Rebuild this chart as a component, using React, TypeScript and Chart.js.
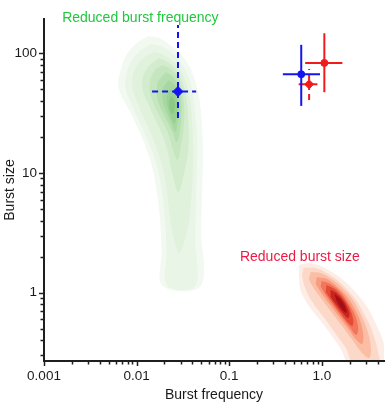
import React, { useEffect, useRef } from 'react';
import { Chart, registerables } from 'chart.js';

Chart.register(...registerables);

// ---------- axis tick labels ----------
const X_TICK_VALUES = [0.001, 0.01, 0.1, 1];
const X_TICK_LABELS = ['0.001', '0.01', '0.1', '1.0'];
const Y_TICK_VALUES = [1, 10, 100];
const Y_TICK_LABELS = ['1', '10', '100'];
const X_TITLE = 'Burst frequency';
const Y_TITLE = 'Burst size';

// ---------- point estimates with error bars ----------
const POINT_FREQ = [0.028, 0.6, 1.066, 0.73];
const POINT_SIZE = [48, 67, 83.3, 55.2];
const FREQ_LOW = [0.0147, 0.38, 0.662, 0.563];
const FREQ_HIGH = [0.044, 0.957, 1.67, 0.897];
const SIZE_LOW = [28.9, 36.4, 47.4, 40.8];
const SIZE_HIGH = [173, 118, 147.5, 74.2];

// ---------- annotations (text, freq, size) ----------
const NOTE_TEXT = ['Reduced burst frequency', 'Reduced burst size'];
const NOTE_FREQ = [0.00157, 0.1306];
const NOTE_SIZE = [183, 1.84];

// ---------- density contours, [log10 freq, log10 size], outer -> inner ----------
const GREEN_LEVELS_LOG10: number[][][] = [
  [[-1.869, 2.146], [-1.762, 2.130], [-1.655, 2.079], [-1.549, 2.013], [-1.453, 1.921], [-1.378, 1.795], [-1.325, 1.636], [-1.298, 1.444], [-1.282, 1.193], [-1.292, 0.859], [-1.303, 0.524], [-1.308, 0.056], [-1.719, 0.056], [-1.730, 0.357], [-1.751, 0.650], [-1.794, 0.901], [-1.847, 1.093], [-1.922, 1.260], [-2.008, 1.411], [-2.093, 1.544], [-2.168, 1.653], [-2.200, 1.745], [-2.178, 1.845], [-2.136, 1.946], [-2.072, 2.029], [-1.986, 2.096]],
  [[-1.847, 2.079], [-1.741, 2.063], [-1.634, 2.013], [-1.538, 1.937], [-1.453, 1.829], [-1.399, 1.678], [-1.367, 1.486], [-1.346, 1.235], [-1.357, 0.859], [-1.367, 0.441], [-1.367, 0.056], [-1.666, 0.056], [-1.677, 0.357], [-1.698, 0.650], [-1.730, 0.875], [-1.783, 1.068], [-1.858, 1.235], [-1.943, 1.385], [-2.029, 1.528], [-2.093, 1.645], [-2.125, 1.745], [-2.104, 1.845], [-2.050, 1.946], [-1.954, 2.029]],
  [[-1.805, 2.013], [-1.709, 1.987], [-1.613, 1.937], [-1.527, 1.862], [-1.463, 1.745], [-1.421, 1.594], [-1.399, 1.402], [-1.389, 1.110], [-1.410, 0.775], [-1.453, 0.524], [-1.538, 0.332], [-1.613, 0.508], [-1.655, 0.733], [-1.687, 0.942], [-1.741, 1.110], [-1.815, 1.277], [-1.911, 1.444], [-1.986, 1.578], [-2.040, 1.695], [-2.040, 1.812], [-1.986, 1.912], [-1.901, 1.979]],
  [[-1.762, 1.962], [-1.666, 1.929], [-1.570, 1.862], [-1.506, 1.762], [-1.463, 1.628], [-1.442, 1.444], [-1.442, 1.193], [-1.485, 1.009], [-1.549, 0.842], [-1.613, 0.992], [-1.655, 1.151], [-1.709, 1.293], [-1.794, 1.444], [-1.869, 1.569], [-1.933, 1.695], [-1.933, 1.804], [-1.869, 1.895]],
  [[-1.719, 1.904], [-1.634, 1.870], [-1.549, 1.795], [-1.506, 1.678], [-1.485, 1.528], [-1.495, 1.360], [-1.527, 1.210], [-1.559, 1.110], [-1.613, 1.210], [-1.666, 1.344], [-1.741, 1.461], [-1.815, 1.578], [-1.858, 1.695], [-1.847, 1.795], [-1.794, 1.870]],
  [[-1.687, 1.845], [-1.613, 1.812], [-1.549, 1.728], [-1.517, 1.611], [-1.517, 1.461], [-1.538, 1.327], [-1.570, 1.260], [-1.613, 1.344], [-1.677, 1.444], [-1.741, 1.544], [-1.783, 1.653], [-1.773, 1.762]],
  [[-1.655, 1.778], [-1.591, 1.737], [-1.549, 1.653], [-1.538, 1.528], [-1.559, 1.411], [-1.581, 1.344], [-1.623, 1.411], [-1.677, 1.511], [-1.719, 1.611], [-1.719, 1.712]],
  [[-1.634, 1.703], [-1.581, 1.661], [-1.559, 1.569], [-1.570, 1.461], [-1.591, 1.411], [-1.634, 1.477], [-1.666, 1.561], [-1.677, 1.645]],
  [[-1.623, 1.645], [-1.591, 1.603], [-1.591, 1.528], [-1.613, 1.494], [-1.645, 1.544], [-1.645, 1.611]],
];

const RED_LEVELS_LOG10: number[][][] = [
  [[-0.247, 0.232], [-0.129, 0.248], [0.010, 0.215], [0.127, 0.165], [0.244, 0.098], [0.340, 0.023], [0.436, -0.061], [0.511, -0.145], [0.575, -0.245], [0.639, -0.354], [0.671, -0.437], [0.671, -0.6], [0.300, -0.6], [0.212, -0.479], [0.116, -0.370], [-0.001, -0.245], [-0.108, -0.145], [-0.193, -0.044], [-0.236, 0.039], [-0.247, 0.140]],
  [[-0.193, 0.207], [-0.076, 0.207], [0.052, 0.165], [0.180, 0.098], [0.287, 0.014], [0.383, -0.078], [0.458, -0.178], [0.522, -0.278], [0.575, -0.395], [0.607, -0.496], [0.618, -0.6], [0.345, -0.6], [0.266, -0.471], [0.159, -0.354], [0.052, -0.237], [-0.055, -0.128], [-0.140, -0.028], [-0.193, 0.073], [-0.215, 0.148]],
  [[-0.119, 0.173], [-0.012, 0.165], [0.106, 0.115], [0.223, 0.039], [0.330, -0.053], [0.404, -0.153], [0.468, -0.262], [0.511, -0.370], [0.532, -0.479], [0.511, -0.546], [0.426, -0.496], [0.330, -0.395], [0.212, -0.270], [0.095, -0.153], [-0.012, -0.044], [-0.097, 0.048], [-0.140, 0.115]],
  [[-0.055, 0.131], [0.052, 0.115], [0.159, 0.056], [0.266, -0.028], [0.351, -0.128], [0.415, -0.237], [0.447, -0.345], [0.436, -0.429], [0.372, -0.395], [0.287, -0.304], [0.180, -0.195], [0.074, -0.086], [-0.012, 0.006], [-0.065, 0.073]],
  [[-0.001, 0.098], [0.095, 0.073], [0.202, 0.006], [0.287, -0.086], [0.362, -0.195], [0.394, -0.304], [0.372, -0.354], [0.308, -0.295], [0.223, -0.212], [0.127, -0.111], [0.042, -0.019], [-0.012, 0.048]],
  [[0.052, 0.064], [0.138, 0.031], [0.223, -0.036], [0.298, -0.128], [0.340, -0.228], [0.330, -0.278], [0.276, -0.245], [0.191, -0.161], [0.106, -0.069], [0.042, 0.006]],
  [[0.095, 0.023], [0.170, -0.011], [0.244, -0.078], [0.298, -0.170], [0.287, -0.212], [0.234, -0.178], [0.159, -0.103], [0.095, -0.036]],
  [[0.138, -0.011], [0.202, -0.053], [0.255, -0.120], [0.266, -0.170], [0.212, -0.136], [0.159, -0.069]],
];

// ---------- styles ----------
const FONT = '"Liberation Sans", Arial, Helvetica, sans-serif';
const AXIS_COLOR = '#1e1e1e';
const GREEN_COLORS = ['#f2f9f0', '#e9f5e6', '#e0f1dc', '#d3ecce', '#c5e6bf', '#b6dfb0', '#a7d8a1', '#98d192', '#89c983'];
const RED_COLORS = ['#fdede6', '#fcd8c9', '#fbbea5', '#f89d80', '#f3765b', '#e44a36', '#c8241f', '#a30f16'];
const POINT_COLORS = ['#1414f0', '#1414f0', '#f21b1b', '#f21b1b'];
const H_DASH = [[6, 4], [], [], []];
const V_DASH = [[6, 4], [], [], [6, 4]];
const MARKER_STYLE = ['rectRot', 'circle', 'circle', 'rectRot'];
const MARKER_RADIUS = [5, 3.5, 3.5, 4.5];
const NOTE_COLORS = ['#1ec83c', '#ee1a44'];

const decadeTicks = (min: number, max: number) => {
  const out: number[] = [];
  for (let e = Math.floor(Math.log10(min)); e <= Math.ceil(Math.log10(max)); e++) {
    for (let m = 1; m <= 9; m++) {
      const v = m * Math.pow(10, e);
      if (v >= min * 0.999 && v <= max * 1.001) out.push(v);
    }
  }
  return out;
};

const labelFor = (v: number, values: number[], labels: string[]) => {
  const i = values.findIndex((t) => Math.abs(Math.log10(t) - Math.log10(v)) < 1e-6);
  return i >= 0 ? labels[i] : '';
};

const isMajor = (v: number, values: number[]) =>
  values.some((t) => Math.abs(Math.log10(t) - Math.log10(v)) < 1e-6);

const tickPlugin = {
  id: 'minorTicks',
  afterDraw(chart: any) {
    const { ctx, chartArea, scales } = chart;
    const xs = scales.x;
    const ys = scales.y;
    ctx.save();
    ctx.strokeStyle = AXIS_COLOR;
    ctx.lineWidth = 1.5;
    ctx.beginPath();
    for (const t of xs.ticks) {
      const px = Math.round(xs.getPixelForValue(t.value)) + 0.5;
      const len = isMajor(t.value, X_TICK_VALUES) ? 4 : 2.5;
      ctx.moveTo(px, chartArea.bottom + 1);
      ctx.lineTo(px, chartArea.bottom + 1 + len);
    }
    for (const t of ys.ticks) {
      const py = Math.round(ys.getPixelForValue(t.value)) + 0.5;
      const len = isMajor(t.value, Y_TICK_VALUES) ? 4 : 2.5;
      ctx.moveTo(chartArea.left - 1, py);
      ctx.lineTo(chartArea.left - 1 - len, py);
    }
    ctx.stroke();

    ctx.font = `14px ${FONT}`;
    ctx.textAlign = 'left';
    ctx.textBaseline = 'alphabetic';
    NOTE_TEXT.forEach((txt, i) => {
      ctx.fillStyle = NOTE_COLORS[i];
      ctx.fillText(txt, xs.getPixelForValue(NOTE_FREQ[i]), ys.getPixelForValue(NOTE_SIZE[i]));
    });
    ctx.restore();
  },
};

export default function App() {
  const ref = useRef<HTMLCanvasElement | null>(null);

  useEffect(() => {
    if (!ref.current) return;
    const datasets: any[] = [];

    const contour = (lvl: number[][], color: string, order: number) => ({
      data: lvl.map(([lx, ly]) => ({ x: Math.pow(10, lx), y: Math.pow(10, ly) })),
      backgroundColor: color,
      borderColor: 'rgba(0,0,0,0)',
      borderWidth: 0,
      pointRadius: 0,
      fill: 'shape',
      tension: 0.35,
      order,
    });

    GREEN_LEVELS_LOG10.forEach((lvl, i) => datasets.push(contour(lvl, GREEN_COLORS[i], 100 - i)));
    RED_LEVELS_LOG10.forEach((lvl, i) => datasets.push(contour(lvl, RED_COLORS[i], 200 - i)));

    POINT_FREQ.forEach((fx, i) => {
      datasets.push({
        data: [{ x: FREQ_LOW[i], y: POINT_SIZE[i] }, { x: FREQ_HIGH[i], y: POINT_SIZE[i] }],
        borderColor: POINT_COLORS[i],
        borderWidth: 2,
        borderDash: H_DASH[i],
        pointRadius: 0,
        fill: false,
        order: 2,
      });
      datasets.push({
        data: [{ x: fx, y: SIZE_LOW[i] }, { x: fx, y: SIZE_HIGH[i] }],
        borderColor: POINT_COLORS[i],
        borderWidth: 2,
        borderDash: V_DASH[i],
        pointRadius: 0,
        fill: false,
        order: 2,
      });
      datasets.push({
        data: [{ x: fx, y: POINT_SIZE[i] }],
        showLine: false,
        pointStyle: MARKER_STYLE[i],
        pointRadius: MARKER_RADIUS[i],
        pointBackgroundColor: POINT_COLORS[i],
        pointBorderColor: POINT_COLORS[i],
        pointBorderWidth: 1,
        order: 0,
      });
    });

    const chart = new Chart(ref.current, {
      type: 'line',
      data: { datasets },
      plugins: [tickPlugin],
      options: {
        animation: false,
        responsive: false,
        devicePixelRatio: 1,
        events: [],
        layout: { padding: { top: 19, right: 2, left: 0, bottom: 0 } },
        plugins: {
          legend: { display: false },
          tooltip: { enabled: false },
          filler: { drawTime: 'beforeDatasetDraw' },
        },
        scales: {
          x: {
            type: 'logarithmic',
            min: 0.001,
            max: 4.7,
            afterBuildTicks: (s: any) => {
              s.ticks = decadeTicks(s.min, s.max).map((v) => ({ value: v }));
            },
            afterFit: (s: any) => {
              s.height = 49;
            },
            grid: { display: false, drawTicks: true, tickLength: 4 },
            border: { display: true, color: AXIS_COLOR, width: 2, z: 1 },
            ticks: {
              autoSkip: false,
              maxRotation: 0,
              padding: 3,
              color: '#1a1a1a',
              font: { family: FONT, size: 13.5 },
              callback: (v: any) => labelFor(Number(v), X_TICK_VALUES, X_TICK_LABELS),
            },
            title: {
              display: true,
              text: X_TITLE,
              color: '#1a1a1a',
              font: { family: FONT, size: 14 },
              padding: { top: 0, bottom: 6 },
            },
          },
          y: {
            type: 'logarithmic',
            min: 0.268,
            max: 194,
            afterBuildTicks: (s: any) => {
              s.ticks = decadeTicks(s.min, s.max).map((v) => ({ value: v }));
            },
            afterFit: (s: any) => {
              s.width = 44;
            },
            grid: { display: false, drawTicks: true, tickLength: 4 },
            border: { display: true, color: AXIS_COLOR, width: 2, z: 1 },
            ticks: {
              autoSkip: false,
              padding: 3,
              color: '#1a1a1a',
              font: { family: FONT, size: 13.5 },
              callback: (v: any) => labelFor(Number(v), Y_TICK_VALUES, Y_TICK_LABELS),
            },
            title: {
              display: true,
              text: Y_TITLE,
              color: '#1a1a1a',
              font: { family: FONT, size: 14 },
              padding: { top: 2, bottom: 0 },
            },
          },
        },
      } as any,
    });

    return () => chart.destroy();
  }, []);

  return (
    <div style={{ position: 'fixed', left: 0, top: 0, width: 390, height: 410, background: '#fff' }}>
      <canvas ref={ref} width={390} height={410} style={{ display: 'block' }} />
    </div>
  );
}
